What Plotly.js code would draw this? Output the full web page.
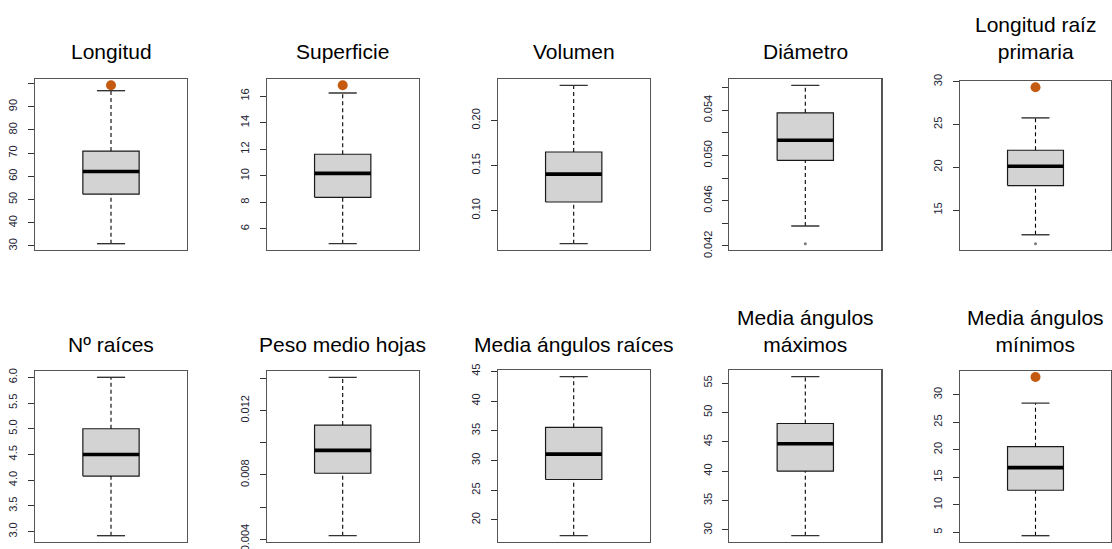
<!DOCTYPE html>
<html>
<head>
<meta charset="utf-8">
<script src="https://cdn.plot.ly/plotly-3.0.1.min.js"></script>
<style>
  html, body { margin: 0; padding: 0; background: #ffffff; }
  #chart { width: 1112px; height: 549px; }
</style>
</head>
<body>
<div id="chart"></div>
<script>
// Five-number summaries of each measured variable
const variables = [
  'Longitud', 'Superficie', 'Volumen', 'Diámetro', 'Longitud raíz<br>primaria',
  'Nº raíces', 'Peso medio hojas', 'Media ángulos raíces', 'Media ángulos<br>máximos', 'Media ángulos<br>mínimos'
];
const lowerWhisker = [31.0, 4.89, 0.0631, 0.04376, 12.11, 2.92, 0.00422, 17.35, 29.03, 4.38];
const q1           = [52.3, 8.38, 0.1094, 0.04956, 17.86, 4.08, 0.0081, 26.8, 40.0, 12.63];
const median       = [62.1, 10.18, 0.1404, 0.05134, 20.12, 4.5, 0.00952, 31.06, 44.66, 16.75];
const q3           = [70.9, 11.62, 0.165, 0.05377, 21.99, 5.0, 0.01109, 35.57, 48.12, 20.55];
const upperWhisker = [96.9, 16.23, 0.2391, 0.0562, 25.77, 6.0, 0.01406, 44.1, 56.09, 28.47];
const highOutliers = [[99.2], [16.81], [], [], [29.35], [], [], [], [], [33.21]];
const lowOutliers  = [[], [], [], [0.0422], [11.06], [], [], [], [], []];

// Tick positions and labels of every y axis
const tickValues = [
  [30, 40, 50, 60, 70, 80, 90, 100],
  [6, 8, 10, 12, 14, 16],
  [0.10, 0.15, 0.20],
  [0.042, 0.044, 0.046, 0.048, 0.050, 0.052, 0.054, 0.056],
  [15, 20, 25, 30],
  [3.0, 3.5, 4.0, 4.5, 5.0, 5.5, 6.0],
  [0.004, 0.006, 0.008, 0.010, 0.012, 0.014],
  [20, 25, 30, 35, 40, 45],
  [30, 35, 40, 45, 50, 55],
  [5, 10, 15, 20, 25, 30]
];
const tickLabels = [
  ['30', '40', '50', '60', '70', '80', '90', ''],
  ['6', '8', '10', '12', '14', '16'],
  ['0.10', '0.15', '0.20'],
  ['0.042', '', '0.046', '', '0.050', '', '0.054', ''],
  ['15', '20', '25', '30'],
  ['3.0', '3.5', '4.0', '4.5', '5.0', '5.5', '6.0'],
  ['0.004', '', '0.008', '', '0.012', ''],
  ['20', '25', '30', '35', '40', '45'],
  ['30', '35', '40', '45', '50', '55'],
  ['5', '10', '15', '20', '25', '30']
];

// Panel frames in pixels on a 1112 x 549 page
const W = 1112, H = 549;
const colLeft = [35, 266.7, 497.7, 729.3, 960];
const frameWidth = [152, 152, 152, 152, 151];
const frameTop = [79, 79, 79, 79, 81, 371, 371, 370.3, 370.3, 370.7];
const frameBottom = [250, 542];
const titleBottom = [64.7, 358];

const boxHalf = 0.2, capHalf = 0.1;
const FONT = 'Liberation Sans, Arial, Helvetica, sans-serif';

const traces = [];
const layout = {
  width: W, height: H,
  margin: { l: 0, r: 0, t: 0, b: 0 },
  paper_bgcolor: '#ffffff',
  plot_bgcolor: '#ffffff',
  showlegend: false,
  font: { family: FONT, color: '#000000' },
  annotations: []
};

variables.forEach((name, i) => {
  const k = i + 1;
  const xa = k === 1 ? 'x' : 'x' + k;
  const ya = k === 1 ? 'y' : 'y' + k;
  const col = i % 5, row = Math.floor(i / 5);

  // Box body
  traces.push({
    type: 'scatter', mode: 'lines', xaxis: xa, yaxis: ya, hoverinfo: 'skip',
    x: [1 - boxHalf, 1 + boxHalf, 1 + boxHalf, 1 - boxHalf, 1 - boxHalf],
    y: [q1[i], q1[i], q3[i], q3[i], q1[i]],
    fill: 'toself', fillcolor: '#d3d3d3',
    line: { color: '#1a1a1a', width: 1.2 }
  });
  // Median bar
  traces.push({
    type: 'scatter', mode: 'lines', xaxis: xa, yaxis: ya, hoverinfo: 'skip',
    x: [1 - boxHalf, 1 + boxHalf], y: [median[i], median[i]],
    line: { color: '#000000', width: 3.6 }
  });
  // Dashed whiskers
  traces.push({
    type: 'scatter', mode: 'lines', xaxis: xa, yaxis: ya, hoverinfo: 'skip',
    x: [1, 1, null, 1, 1],
    y: [lowerWhisker[i], q1[i], null, q3[i], upperWhisker[i]],
    line: { color: '#000000', width: 1.1, dash: '4px,3px' }
  });
  // Whisker caps
  traces.push({
    type: 'scatter', mode: 'lines', xaxis: xa, yaxis: ya, hoverinfo: 'skip',
    x: [1 - capHalf, 1 + capHalf, null, 1 - capHalf, 1 + capHalf],
    y: [lowerWhisker[i], lowerWhisker[i], null, upperWhisker[i], upperWhisker[i]],
    line: { color: '#333333', width: 1.4 }
  });
  // Outliers
  if (highOutliers[i].length) {
    traces.push({
      type: 'scatter', mode: 'markers', xaxis: xa, yaxis: ya, hoverinfo: 'skip',
      x: highOutliers[i].map(() => 1), y: highOutliers[i],
      marker: { color: '#c55a11', size: 10, line: { width: 0 } }
    });
  }
  if (lowOutliers[i].length) {
    traces.push({
      type: 'scatter', mode: 'markers', xaxis: xa, yaxis: ya, hoverinfo: 'skip',
      x: lowOutliers[i].map(() => 1), y: lowOutliers[i],
      marker: { color: '#777777', size: 3, line: { width: 0 } }
    });
  }

  // Axis range padded 4% beyond the extreme values
  const lo = Math.min(lowerWhisker[i], ...lowOutliers[i]);
  const hi = Math.max(upperWhisker[i], ...highOutliers[i]);
  const pad = 0.04 * (hi - lo);

  const left = colLeft[col];
  const right = left + frameWidth[col];
  const top = frameTop[i];
  const bottom = frameBottom[row];

  layout['xaxis' + (k === 1 ? '' : k)] = {
    domain: [left / W, Math.min(right / W, 1)],
    anchor: ya,
    range: [0.46, 1.54],
    showgrid: false, zeroline: false, showticklabels: false, ticks: '',
    showline: true, mirror: true, linecolor: '#555555', linewidth: 1.2,
    fixedrange: true
  };
  layout['yaxis' + (k === 1 ? '' : k)] = {
    domain: [1 - bottom / H, 1 - top / H],
    anchor: xa,
    range: [lo - pad, hi + pad],
    showgrid: false, zeroline: false,
    showline: true, mirror: true, linecolor: '#555555', linewidth: 1.2,
    ticks: 'outside', ticklen: 6, tickwidth: 1, tickcolor: '#333333',
    tickmode: 'array', tickvals: tickValues[i], ticktext: tickLabels[i],
    tickangle: -90, ticklabelstandoff: 6, ticklabeloverflow: 'allow',
    tickfont: { family: FONT, size: 11, color: '#222233' },
    fixedrange: true
  };

  // Panel title, sitting on a common baseline for each row
  layout.annotations.push({
    text: name,
    xref: xa + ' domain', yref: 'paper',
    x: 0.5, y: 1 - titleBottom[row] / H, xanchor: 'center', yanchor: 'bottom',
    showarrow: false,
    font: { family: FONT, size: 21, color: '#000000' }
  });
});

Plotly.newPlot('chart', traces, layout, { staticPlot: true, displayModeBar: false });
</script>
</body>
</html>
